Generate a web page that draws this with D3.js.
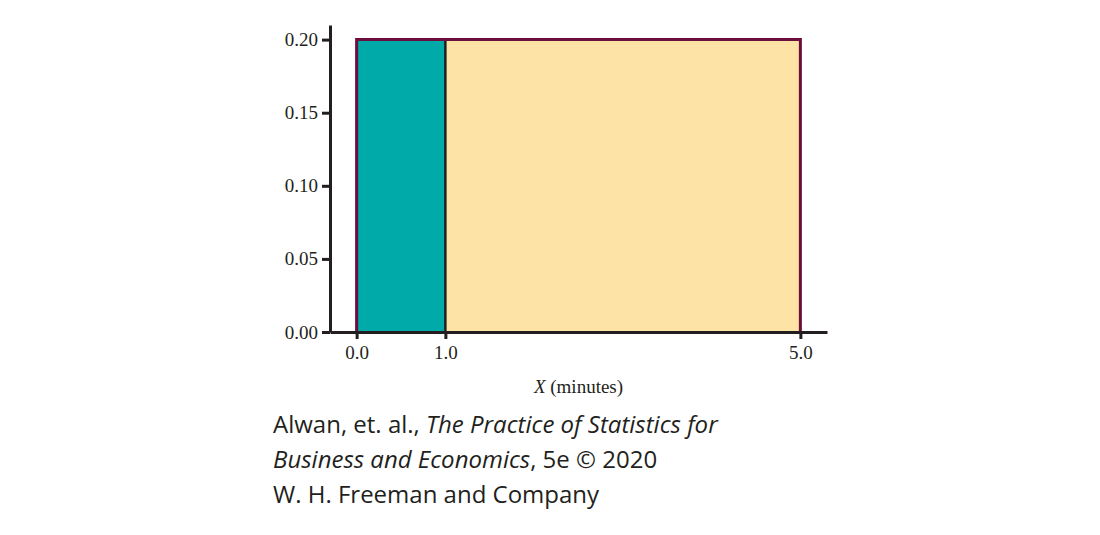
<!DOCTYPE html>
<html><head><meta charset="utf-8">
<script src="https://cdn.jsdelivr.net/npm/d3@7"></script>
<style>body{margin:0;background:#fff}</style></head>
<body><svg id="c" width="1100" height="535"></svg>
<script>
const regions = [{x0:0,x1:1,fill:"#00aaa9"},{x0:1,x1:5,fill:"#fee3a6"}];
const density = 0.2;
const xTicks = [0,1,5];
const yTicks = [0,0.05,0.10,0.15,0.20];
const svg = d3.select("#c");
const x = d3.scaleLinear().domain([-0.3,5.3]).range([330,827]);
const y = d3.scaleLinear().domain([0,0.21]).range([332,25]);
const g = svg.append("g");
g.selectAll("rect.r").data(regions).join("rect")
 .attr("x",d=>x(d.x0)).attr("width",d=>x(d.x1)-x(d.x0))
 .attr("y",y(density)).attr("height",y(0)-y(density)).attr("fill",d=>d.fill);
g.append("line").attr("x1",x(1)).attr("x2",x(1)).attr("y1",y(density)).attr("y2",y(0)).attr("stroke","#231f20").attr("stroke-width",2.5);
g.append("path").attr("d",`M${x(0)},${y(0)}V${y(density)}H${x(5)}V${y(0)}`).attr("fill","none").attr("stroke","#6b0e3d").attr("stroke-width",3);
const ya = svg.append("g").attr("transform","translate(330,0)").call(d3.axisLeft(y).tickValues(yTicks).tickFormat(d3.format(".2f")).tickSize(8).tickSizeOuter(0).tickPadding(4));
const xa = svg.append("g").attr("transform","translate(0,332)").call(d3.axisBottom(x).tickValues(xTicks).tickSize(7).tickSizeOuter(0).tickPadding(7));
[ya,xa].forEach(a=>{a.select(".domain").attr("stroke","#231f20").attr("stroke-width",3);
 a.selectAll(".tick line").attr("stroke","#231f20").attr("stroke-width",3);
 a.selectAll("text").attr("fill","#231f20").attr("font-family","Liberation Serif, serif").attr("font-size",19);});
const t = svg.append("text").attr("x",x(2.5)).attr("y",393).attr("text-anchor","middle").attr("font-family","Liberation Serif, serif").attr("font-size",19).attr("fill","#231f20");
t.append("tspan").attr("font-style","italic").text("X");
t.append("tspan").text(" (minutes)");
const cap = svg.append("g").attr("font-family","Open Sans, sans-serif").attr("font-size",24).attr("fill","#231f20");
const l1 = cap.append("text").attr("x",273).attr("y",433);
l1.append("tspan").text("Alwan, et. al., ");
l1.append("tspan").attr("font-style","italic").text("The Practice of Statistics for");
const l2 = cap.append("text").attr("x",273).attr("y",468);
l2.append("tspan").attr("font-style","italic").text("Business and Economics");
l2.append("tspan").text(", 5e © 2020");
cap.append("text").attr("x",273).attr("y",503).text("W. H. Freeman and Company");
</script></body></html>
